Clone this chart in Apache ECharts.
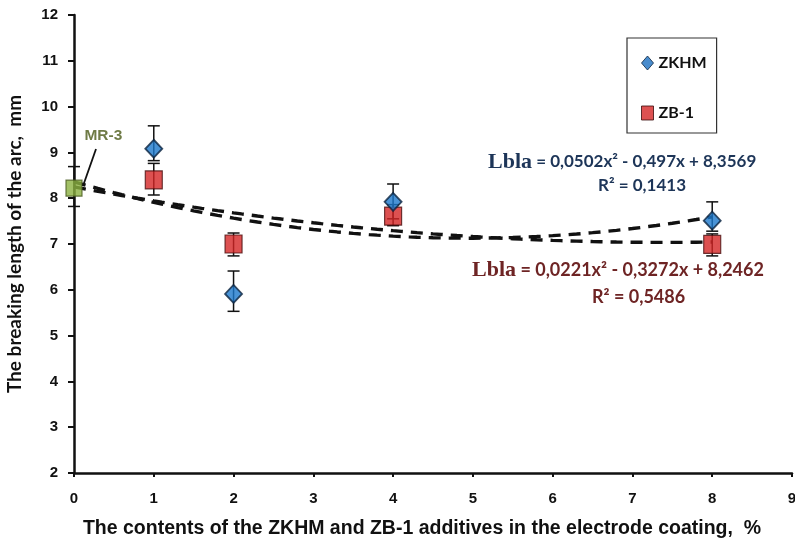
<!DOCTYPE html>
<html>
<head>
<meta charset="utf-8">
<script src="https://cdn.jsdelivr.net/npm/echarts@6/dist/echarts.min.js"></script>
<style>html,body{margin:0;padding:0;background:#fff}#c{width:795px;height:544px}</style>
</head>
<body>
<div id="c"></div>
<script>
// ---- data ----
const zkhmX = [1, 2, 4, 8];
const zkhmY = [9.08, 5.91, 7.92, 7.51];
const zkhmHi = [9.58, 6.41, 8.31, 7.92];
const zkhmLo = [8.82, 5.53, 7.55, 7.28];

const zb1X = [1, 2, 4, 8];
const zb1Y = [8.40, 7.00, 7.61, 6.99];
const zb1Hi = [8.76, 7.24, 7.86, 7.22];
const zb1Lo = [8.07, 6.74, 7.40, 6.74];

const mr3X = [0];
const mr3Y = [8.22];
const mr3Hi = [8.69];
const mr3Lo = [7.82];

// trend line coefficients as printed on the chart (a, b, c for a*x^2 + b*x + c)
const zkhmTrend = [0.0502, -0.497, 8.3569];
const zb1Trend = [0.0221, -0.3272, 8.2462];
const trendRange = [0, 8];

const xTicks = [0, 1, 2, 3, 4, 5, 6, 7, 8, 9];
const yTicks = [2, 3, 4, 5, 6, 7, 8, 9, 10, 11, 12];

function trendPts(c) {
  const pts = [];
  for (let i = 0; i <= 80; i++) {
    const x = trendRange[0] + (trendRange[1] - trendRange[0]) * i / 80;
    pts.push([x, c[0] * x * x + c[1] * x + c[2]]);
  }
  return pts;
}
function errData(xs, lo, hi) { return xs.map((x, i) => [x, lo[i], hi[i]]); }
function pts(xs, ys) { return xs.map((x, i) => [x, ys[i]]); }

function errRender(params, api) {
  const x = api.value(0);
  const lo = api.coord([x, api.value(1)]);
  const hi = api.coord([x, api.value(2)]);
  const w = 6;
  const st = { stroke: '#111', lineWidth: 1.5 };
  return {
    type: 'group',
    children: [
      { type: 'line', shape: { x1: lo[0], y1: lo[1], x2: hi[0], y2: hi[1] }, style: st },
      { type: 'line', shape: { x1: lo[0] - w, y1: lo[1], x2: lo[0] + w, y2: lo[1] }, style: st },
      { type: 'line', shape: { x1: hi[0] - w, y1: hi[1], x2: hi[0] + w, y2: hi[1] }, style: st }
    ]
  };
}

const chart = echarts.init(document.getElementById('c'));
const boldFont = 'Liberation Sans';
const blue = '#1d3558';
const red = '#6e2424';
chart.setOption({
  animation: false,
  backgroundColor: '#fff',
  grid: { left: 74, right: 3, top: 15, bottom: 71, containLabel: false, outerBoundsMode: 'none' },
  xAxis: {
    type: 'value', min: xTicks[0], max: xTicks[xTicks.length - 1], interval: 1,
    name: 'The contents of the ZKHM and ZB-1 additives in the electrode coating,  %',
    nameLocation: 'middle', nameGap: 46,
    nameTextStyle: { fontFamily: boldFont, fontWeight: 'bold', fontSize: 19.5, color: '#111', padding: [0, 22, 0, 0] },
    axisLine: { lineStyle: { color: '#111', width: 2.5 } },
    axisTick: { show: true, inside: false, length: 4, lineStyle: { color: '#111', width: 2 } },
    axisLabel: { fontFamily: boldFont, fontWeight: 'bold', fontSize: 15, color: '#111', margin: 18 },
    splitLine: { show: false }
  },
  yAxis: {
    type: 'value', min: yTicks[0], max: yTicks[yTicks.length - 1], interval: 1,
    name: 'The breaking length of the arc,  mm',
    nameLocation: 'middle', nameGap: 50,
    nameTextStyle: { fontFamily: 'Lato', fontWeight: 'bold', fontSize: 19, color: '#111' },
    axisLine: { lineStyle: { color: '#111', width: 2.5 } },
    axisTick: { show: true, inside: false, length: 6, lineStyle: { color: '#111', width: 2 } },
    axisLabel: { fontFamily: boldFont, fontWeight: 'bold', fontSize: 15, color: '#111', margin: 16 },
    splitLine: { show: false }
  },
  legend: {
    orient: 'vertical', left: 627, top: 38, width: 90,
    padding: [17, 10, 12, 14], itemGap: 34,
    borderColor: '#333', borderWidth: 1.2,
    itemWidth: 12, itemHeight: 14,
    textStyle: { fontFamily: 'Lato', fontWeight: 'bold', fontSize: 16, color: '#111', padding: [0, 6, 0, 0] },
    data: [
      { name: 'ZKHM', icon: 'diamond', itemStyle: { color: '#1b6fc0', borderColor: '#0c2440', borderWidth: 1 } },
      { name: 'ZB-1', icon: 'rect', itemStyle: { color: '#d42525', borderColor: '#3a0a0a', borderWidth: 1 } }
    ]
  },
  series: [
    {
      name: 'ZKHM trend', type: 'line', data: trendPts(zkhmTrend), showSymbol: false, smooth: false,
      lineStyle: { color: '#111', width: 3.4, type: [12, 8] }, z: 1, silent: true
    },
    {
      name: 'ZB-1 trend', type: 'line', data: trendPts(zb1Trend), showSymbol: false, smooth: false,
      lineStyle: { color: '#111', width: 3.4, type: [12, 8] }, z: 1, silent: true
    },
    { name: 'errZKHM', type: 'custom', renderItem: errRender, data: errData(zkhmX, zkhmLo, zkhmHi), z: 2, silent: true },
    { name: 'errZB1', type: 'custom', renderItem: errRender, data: errData(zb1X, zb1Lo, zb1Hi), z: 2, silent: true },
    { name: 'errMR3', type: 'custom', renderItem: errRender, data: errData(mr3X, mr3Lo, mr3Hi), z: 2, silent: true },
    {
      name: 'ZB-1', type: 'scatter', data: pts(zb1X, zb1Y), symbol: 'rect', symbolSize: [17, 18],
      itemStyle: { color: '#d42525', borderColor: '#4a1010', borderWidth: 1.2 }, z: 3
    },
    {
      name: 'ZKHM', type: 'scatter', data: pts(zkhmX, zkhmY), symbol: 'diamond', symbolSize: [17, 18],
      itemStyle: { color: '#1b78cc', borderColor: '#0c2440', borderWidth: 1.8 }, z: 4
    },
    {
      name: 'MR-3', type: 'scatter', data: pts(mr3X, mr3Y), symbol: 'rect', symbolSize: [16, 16],
      itemStyle: { color: '#8bb040', borderColor: '#4a5a20', borderWidth: 1.2 }, z: 4,
      label: {
        show: true, formatter: 'MR-3', position: [19, -52],
        fontFamily: boldFont, fontWeight: 'bold', fontSize: 15.5, color: '#4b5a18'
      }
    }
  ],
  graphic: [
    { type: 'line', shape: { x1: 96, y1: 149, x2: 83, y2: 186 }, style: { stroke: '#111', lineWidth: 1.8 }, z: 10 },
    {
      type: 'text', left: 488, top: 151, z: 10,
      style: {
        text: '{a|Lbla}{b| = 0,0502x² - 0,497x + 8,3569}',
        rich: {
          a: { fontFamily: 'Liberation Serif', fontWeight: 'bold', fontSize: 22, fill: blue, color: blue },
          b: { fontFamily: 'Lato', fontWeight: 'bold', fontSize: 17, fill: blue, color: blue }
        }
      }
    },
    {
      type: 'text', left: 598, top: 177, z: 10,
      style: { text: 'R² = 0,1413', font: 'bold 17px Lato', fill: blue }
    },
    {
      type: 'text', left: 472, top: 259, z: 10,
      style: {
        text: '{a|Lbla}{b| = 0,0221x² - 0,3272x + 8,2462}',
        rich: {
          a: { fontFamily: 'Liberation Serif', fontWeight: 'bold', fontSize: 22, fill: red, color: red },
          b: { fontFamily: 'Lato', fontWeight: 'bold', fontSize: 18, fill: red, color: red }
        }
      }
    },
    {
      type: 'text', left: 592, top: 288, z: 10,
      style: { text: 'R² = 0,5486', font: 'bold 18px Lato', fill: red }
    }
  ]
});
</script>
</body>
</html>
